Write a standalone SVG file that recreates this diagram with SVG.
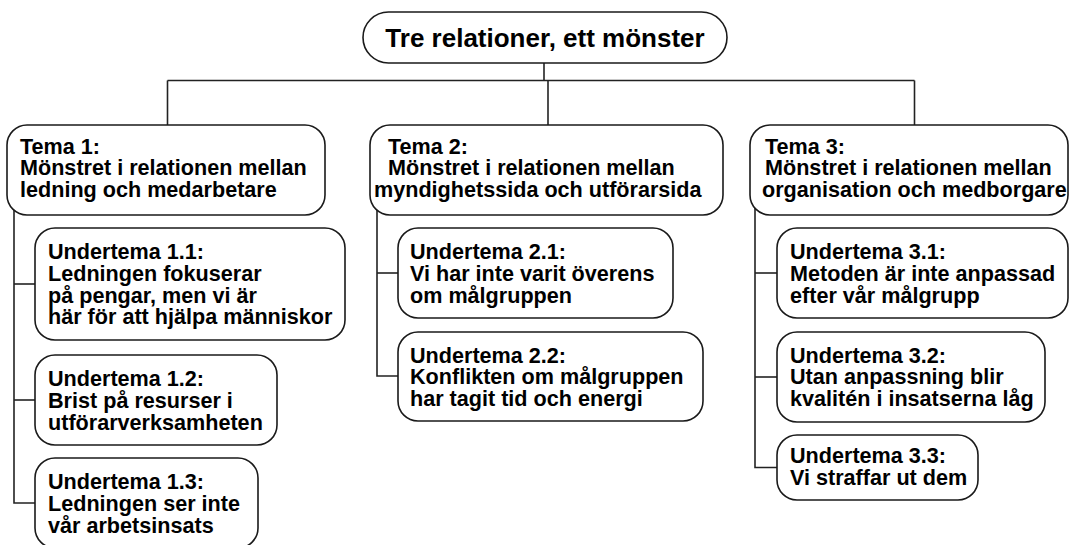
<svg xmlns="http://www.w3.org/2000/svg" width="1070" height="545" viewBox="0 0 1070 545">
<style>
.box{fill:#fff;stroke:#1a1a1a;stroke-width:1.6}
.conn{fill:none;stroke:#222;stroke-width:1.6}
.t{font-family:"Liberation Sans",Arial,sans-serif;font-weight:bold;font-size:21.6px;fill:#000}
.title{font-family:"Liberation Sans",Arial,sans-serif;font-weight:bold;font-size:26px;fill:#000}
</style>
<rect width="1070" height="545" fill="#fff"/>
<g id="connectors" class="conn">
<path d="M544,63 V80.5"/>
<path d="M167.5,80.5 H914.5"/>
<path d="M167.5,80.5 V125"/>
<path d="M548,80.5 V125"/>
<path d="M914.5,80.5 V125"/>
<path d="M14,195 V503 H36"/>
<path d="M14,284 H36"/>
<path d="M14,400 H36"/>
<path d="M377,195 V376 H399"/>
<path d="M377,273 H399"/>
<path d="M755,195 V467.5 H778"/>
<path d="M755,273 H778"/>
<path d="M755,377 H778"/>
</g>
<g id="root">
<rect class="box" x="363" y="12" width="364" height="51" rx="25.5"/>
<text class="title" x="545" y="46.5" text-anchor="middle">Tre relationer, ett mönster</text>
</g>
<g id="tema1">
<rect class="box" x="7" y="125" width="318" height="90" rx="20"/>
<text class="t"><tspan x="20" y="153.5">Tema 1:</tspan><tspan x="20" y="175.3">Mönstret i relationen mellan</tspan><tspan x="20" y="197.1">ledning och medarbetare</tspan></text>
</g>
<g id="tema2">
<rect class="box" x="370" y="125" width="353" height="90" rx="20"/>
<text class="t"><tspan x="388" y="153.5">Tema 2:</tspan><tspan x="388" y="175.3">Mönstret i relationen mellan</tspan><tspan x="374" y="197.1">myndighetssida och utförarsida</tspan></text>
</g>
<g id="tema3">
<rect class="box" x="750" y="125" width="318" height="90" rx="20"/>
<text class="t"><tspan x="765" y="153.5">Tema 3:</tspan><tspan x="765" y="175.3">Mönstret i relationen mellan</tspan><tspan x="762" y="197.1">organisation och medborgare</tspan></text>
</g>
<g id="u11">
<rect class="box" x="35" y="228" width="310" height="112" rx="20"/>
<text class="t"><tspan x="48" y="259">Undertema 1.1:</tspan><tspan x="48" y="280.8">Ledningen fokuserar</tspan><tspan x="48" y="302.6">på pengar, men vi är</tspan><tspan x="48" y="324.4">här för att hjälpa människor</tspan></text>
</g>
<g id="u12">
<rect class="box" x="35" y="355" width="242" height="90" rx="20"/>
<text class="t"><tspan x="48" y="386">Undertema 1.2:</tspan><tspan x="48" y="407.8">Brist på resurser i</tspan><tspan x="48" y="429.6">utförarverksamheten</tspan></text>
</g>
<g id="u13">
<rect class="box" x="35" y="458" width="223" height="90" rx="20"/>
<text class="t"><tspan x="48" y="489">Undertema 1.3:</tspan><tspan x="48" y="510.8">Ledningen ser inte</tspan><tspan x="48" y="532.6">vår arbetsinsats</tspan></text>
</g>
<g id="u21">
<rect class="box" x="398" y="228" width="275" height="90" rx="20"/>
<text class="t"><tspan x="410" y="259">Undertema 2.1:</tspan><tspan x="410" y="280.8">Vi har inte varit överens</tspan><tspan x="410" y="302.6">om målgruppen</tspan></text>
</g>
<g id="u22">
<rect class="box" x="398" y="332" width="305" height="89" rx="20"/>
<text class="t"><tspan x="410" y="362.5">Undertema 2.2:</tspan><tspan x="410" y="384.3">Konflikten om målgruppen</tspan><tspan x="410" y="406.1">har tagit tid och energi</tspan></text>
</g>
<g id="u31">
<rect class="box" x="777" y="228" width="291" height="90" rx="20"/>
<text class="t"><tspan x="790" y="259">Undertema 3.1:</tspan><tspan x="790" y="280.8">Metoden är inte anpassad</tspan><tspan x="790" y="302.6">efter vår målgrupp</tspan></text>
</g>
<g id="u32">
<rect class="box" x="777" y="332" width="268" height="90" rx="20"/>
<text class="t"><tspan x="790" y="362.5">Undertema 3.2:</tspan><tspan x="790" y="384.3">Utan anpassning blir</tspan><tspan x="790" y="406.1">kvalitén i insatserna låg</tspan></text>
</g>
<g id="u33">
<rect class="box" x="777" y="435" width="201" height="65" rx="20"/>
<text class="t"><tspan x="790" y="463">Undertema 3.3:</tspan><tspan x="790" y="484.8">Vi straffar ut dem</tspan></text>
</g>
</svg>
